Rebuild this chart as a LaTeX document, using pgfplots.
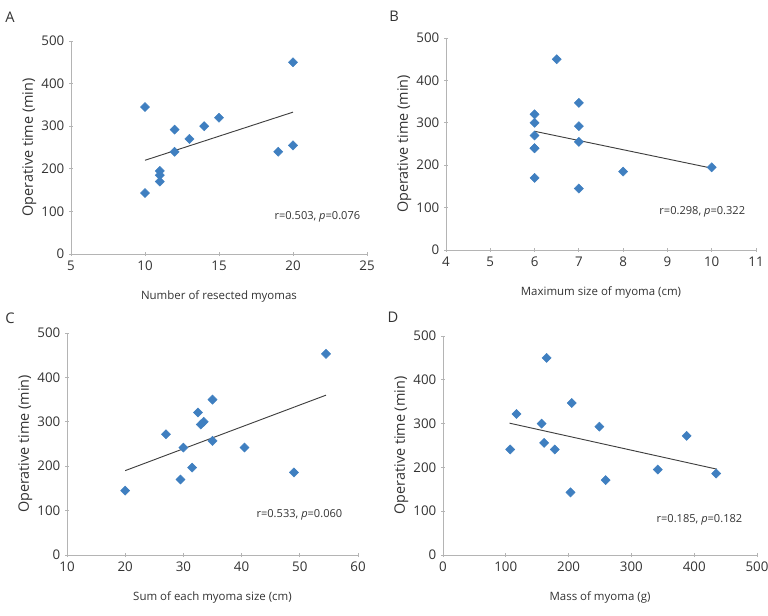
\documentclass[border=0pt]{standalone}
\usepackage{fontspec}
\setmainfont{Open Sans}
\usepackage{pgfplots}
\pgfplotsset{compat=1.18}
\definecolor{mk}{HTML}{3F7FC0}
\definecolor{ax}{HTML}{B4B4B4}
\definecolor{tx}{HTML}{333333}
\tikzset{ann/.style={anchor=east, text=tx, font=\fontsize{8.3}{10}\selectfont}}
\pgfplotsset{
  myax/.style={
    scale only axis,
    axis x line*=bottom, axis y line*=left,
    axis line style={ax, line width=0.6pt, -},
    tick style={ax, line width=0.6pt},
    tick align=center, major tick length=3pt,
    ymin=0, ymax=500, ytick={0,100,...,500},
    /pgf/number format/assume math mode=true,
    ticklabel style={font=\fontsize{10}{12}\selectfont, text=tx},
    label style={text=tx},
    ylabel={Operative time (min)},
    ylabel style={font=\fontsize{10.8}{12}\selectfont, yshift=-3pt},
    xlabel style={font=\fontsize{8.6}{11}\selectfont, at={(axis description cs:0.5,0)}, anchor=center, yshift={-31.5pt}},
    clip=false,
  },
  pts/.style={only marks, mark=square*, mark size=2.4pt, mark options={rotate=45, fill=mk, draw=mk}},
  fit/.style={no marks, color=black!75, line width=0.7pt},
}
\begin{document}
\begin{tikzpicture}
\path[use as bounding box] (0,0) rectangle (576pt,-462pt);
% Panel labels
\node[text=tx, font=\fontsize{11}{13}\selectfont] at (7.5pt,-12.75pt) {A};
\node[text=tx, font=\fontsize{11}{13}\selectfont] at (295.5pt,-12pt) {B};
\node[text=tx, font=\fontsize{11}{13}\selectfont] at (7.5pt,-238.5pt) {C};
\node[text=tx, font=\fontsize{11}{13}\selectfont] at (294.75pt,-237.75pt) {D};
% A
\begin{axis}[myax, at={(53.25pt,-190.5pt)}, anchor=south west,
  width=222pt, height=159.75pt,
  xmin=5, xmax=25, xtick={5,10,...,25},
  xlabel={Number of resected myomas}]
\addplot[pts] coordinates {(10,345) (10,143) (11,195) (11,185) (11,170) (12,292) (12,240) (13,270) (14,300) (15,320) (19,240) (20,450) (20,255)};
\addplot[fit] coordinates {(10,220) (20,333)};
\node[ann] at (rel axis cs:0.993,0.175) {r=0.503, \emph{p}=0.076};
\end{axis}
% B
\begin{axis}[myax, at={(334.5pt,-187.5pt)}, anchor=south west,
  width=232.5pt, height=159pt,
  xmin=4, xmax=11, xtick={4,5,...,11},
  xlabel={Maximum size of myoma (cm)}]
\addplot[pts] coordinates {(6,320) (6,300) (6,270) (6,240) (6,240) (6,170) (6.5,450) (7,347) (7,292) (7,255) (7,145) (8,185) (10,195)};
\addplot[fit] coordinates {(6,280) (10,193)};
\node[ann] at (rel axis cs:0.98,0.18) {r=0.298, \emph{p}=0.322};
\end{axis}
% C
\begin{axis}[myax, at={(50.25pt,-416.25pt)}, anchor=south west,
  width=218.25pt, height=166.5pt,
  xmin=10, xmax=60, xtick={10,20,...,60},
  xlabel={Sum of each myoma size (cm)}]
\addplot[pts] coordinates {(20,145) (27,272) (29.5,170) (30,242) (31.5,197) (32.5,321) (33,294) (33.5,300) (35,350) (35,257) (40.5,242) (49,186) (54.5,453)};
\addplot[fit] coordinates {(20,190) (54.5,360)};
\node[ann] at (rel axis cs:0.962,0.18) {r=0.533, \emph{p}=0.060};
\end{axis}
% D
\begin{axis}[myax, at={(332.25pt,-416.25pt)}, anchor=south west,
  width=235.5pt, height=164.25pt,
  xmin=0, xmax=500, xtick={0,100,...,500},
  xlabel={Mass of myoma (g)}]
\addplot[pts] coordinates {(107,241) (117,322) (157,300) (165,450) (161,256) (178,241) (203,143) (205,347) (249,293) (259,171) (342,195) (388,272) (435,186)};
\addplot[fit] coordinates {(106,301) (436,196)};
\node[ann] at (rel axis cs:0.968,0.16) {r=0.185, \emph{p}=0.182};
\end{axis}
\end{tikzpicture}
\end{document}
